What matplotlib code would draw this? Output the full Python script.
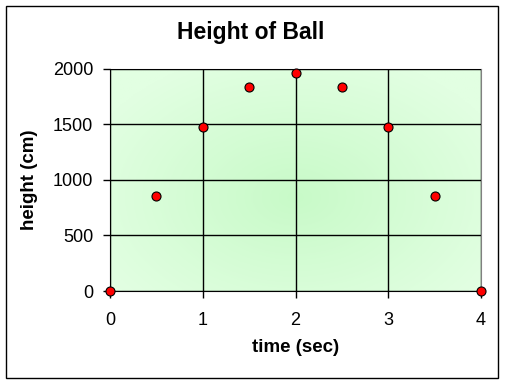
import numpy as np
import matplotlib.pyplot as plt
from matplotlib.patches import Rectangle

# data
time_sec = [0, 0.5, 1, 1.5, 2, 2.5, 3, 3.5, 4]
height_cm = [0, 857.5, 1470, 1837.5, 1960, 1837.5, 1470, 857.5, 0]
x_ticks = [0, 1, 2, 3, 4]
y_ticks = [0, 500, 1000, 1500, 2000]

plt.rcParams['font.family'] = ['Liberation Sans', 'DejaVu Sans']

fig = plt.figure(figsize=(5.05, 3.84), dpi=100)
ax = fig.add_axes([110 / 505, 1 - 291 / 384, 371 / 505, 222.5 / 384])

# radial green gradient background
gx, gy = np.meshgrid(np.linspace(0, 1, 200), np.linspace(0, 1, 200))
r = np.sqrt((gx - 0.5) ** 2 + ((gy - 0.42) * 0.9) ** 2)
r = np.clip(r / 0.6, 0, 1)
c0 = np.array([200, 250, 200]) / 255
c1 = np.array([226, 255, 226]) / 255
img = c0 + (c1 - c0) * r[..., None]
ax.imshow(img, extent=[0, 4, 0, 2000], aspect='auto', origin='lower', zorder=0)

ax.plot(time_sec, height_cm, linestyle='none', marker='o', markersize=6.5,
        markerfacecolor='#ff0000', markeredgecolor='black', markeredgewidth=0.8,
        clip_on=False, zorder=5)

ax.set_xlim(0, 4)
ax.set_ylim(0, 2000)
ax.set_xticks(x_ticks)
ax.set_yticks(y_ticks)
ax.grid(True, color='black', linewidth=1)
ax.set_axisbelow(False)
for s in ['top', 'right']:
    ax.spines[s].set_color('#808080')
for s in ['left', 'bottom']:
    ax.spines[s].set_color('black')
ax.tick_params(axis='both', direction='out', length=5, width=1, labelsize=13)
ax.tick_params(axis='x', pad=10)
ax.tick_params(axis='y', pad=7)

ax.set_xlabel('time (sec)', fontsize=13.5, fontweight='bold', labelpad=7)
ax.set_ylabel('height (cm)', fontsize=13.5, fontweight='bold', labelpad=11)
fig.text(251 / 505, 1 - 32 / 384, 'Height of Ball', ha='center', va='center',
         fontsize=16.5, fontweight='bold')

fig.patches.append(Rectangle((6 / 505, 6 / 384), 492 / 505, 372 / 384,
                             transform=fig.transFigure, fill=False,
                             edgecolor='black', linewidth=1))

fig.savefig('out.png', dpi=100)
